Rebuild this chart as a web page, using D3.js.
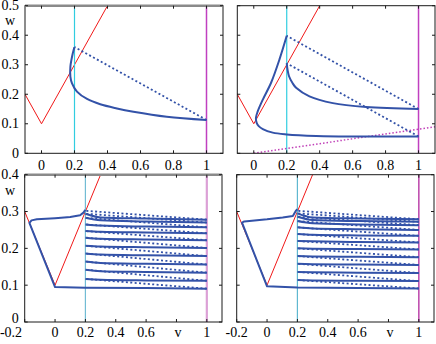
<!DOCTYPE html>
<html>
<head>
<meta charset="utf-8">
<script src="https://cdn.jsdelivr.net/npm/d3@7"></script>
<style>
body { margin: 0; background: #fff; }
svg { display: block; }
</style>
</head>
<body>
<svg width="436" height="344"></svg>
<script>
// nullcline w = 0.1 + |v| (red), shared by all panels
var redLine = [[-0.2, 0.3], [0, 0.1], [0.5, 0.6]];

// top left: single cycle
var tlCurve = [[0.199, 0.359], [0.185, 0.327], [0.175, 0.293], [0.175, 0.26], [0.185, 0.237],
    [0.215, 0.209], [0.276, 0.184], [0.356, 0.166], [0.457, 0.152], [0.557, 0.141],
    [0.759, 0.124], [1, 0.113]];
var tlJumps = [[[1, 0.113], [0.2, 0.36]]];

// top right: period-two cycle
var trCurveA = [[0.2, 0.398], [0.156, 0.318], [0.105, 0.239], [0.055, 0.182], [0.024, 0.142],
    [0.013, 0.12], [0.017, 0.104], [0.03, 0.092], [0.055, 0.082], [0.115, 0.07], [0.2, 0.064],
    [0.379, 0.059], [0.682, 0.057], [1, 0.057]];
var trCurveB = [[0.2, 0.305], [0.206, 0.28], [0.214, 0.261], [0.235, 0.238], [0.257, 0.222],
    [0.338, 0.193], [0.48, 0.17], [0.682, 0.157], [1, 0.15]];
var trJumps = [[[1, 0.057], [0.2, 0.305]], [[1, 0.15], [0.2, 0.398]]];
var trDiag = [[0, 0], [1.1, 0.09]];

// bottom panels: reset curves sampled at these v
var resetV = [0.2, 0.3, 0.6, 1.0];

var blLeft = [[0.2, 0.305], [0.187, 0.297], [0.165, 0.29], [0.1, 0.285], [0, 0.282], [-0.12, 0.279],
    [-0.155, 0.276], [-0.169, 0.269], [0, 0.095], [0.2, 0.093], [0.6, 0.092], [1, 0.0905]];
var blCurves = [
    [0.117, 0.115, 0.113, 0.112],
    [0.142, 0.138, 0.136, 0.134],
    [0.164, 0.160, 0.158, 0.156],
    [0.186, 0.183, 0.181, 0.179],
    [0.207, 0.205, 0.203, 0.201],
    [0.229, 0.226, 0.224, 0.222],
    [0.247, 0.245, 0.243, 0.241],
    [0.265, 0.262, 0.259, 0.257],
    [0.283, 0.276, 0.273, 0.270],
    [0.294, 0.284, 0.281, 0.278]
];
var blJumpFrom = [0.0905, 0.112, 0.134, 0.156, 0.179, 0.201, 0.222, 0.241, 0.257, 0.27, 0.278];
var blJumpTo = [0.117, 0.142, 0.164, 0.186, 0.207, 0.229, 0.247, 0.265, 0.283, 0.294, 0.302];

var brLeft = [[0.2, 0.306], [0.19, 0.302], [0.17, 0.288], [0.103, 0.284], [0, 0.279], [-0.116, 0.2745],
    [-0.15, 0.273], [-0.165, 0.27], [0, 0.097], [0.2, 0.094], [0.6, 0.092], [1, 0.091]];
var brCurves = [
    [0.114, 0.113, 0.112, 0.111],
    [0.136, 0.135, 0.134, 0.133],
    [0.158, 0.157, 0.156, 0.155],
    [0.179, 0.178, 0.177, 0.176],
    [0.200, 0.199, 0.198, 0.197],
    [0.220, 0.219, 0.217, 0.216],
    [0.239, 0.237, 0.235, 0.234],
    [0.257, 0.254, 0.252, 0.250],
    [0.274, 0.268, 0.265, 0.263],
    [0.286, 0.277, 0.274, 0.272],
    [0.295, 0.284, 0.281, 0.279]
];
var brJumpFrom = [0.091, 0.111, 0.133, 0.155, 0.176, 0.197, 0.216, 0.234, 0.25, 0.263, 0.272, 0.279];
var brJumpTo = [0.114, 0.136, 0.158, 0.179, 0.2, 0.22, 0.239, 0.257, 0.274, 0.286, 0.295, 0.302];

var topXTicks = [0, 0.2, 0.4, 0.6, 0.8, 1];
var topXLabels = ["0", "0.2", "0.4", "0.6", "0.8", "1"];
var topYTicks = [0, 0.1, 0.2, 0.3, 0.4, 0.5];
var topYLabels = ["0", "0.1", "0.2", "0.3", "0.4", "0.5"];
var botXTicks = [-0.2, 0, 0.2, 0.4, 0.6, 0.8, 1];
var botXLabels = ["-0.2", "0", "0.2", "0.4", "0.6", "v", "1"];
var botYTicks = [0, 0.1, 0.2, 0.3, 0.4];
var botYLabels = ["0", "0.1", "0.2", "0.3", "0.4"];

var blue = "#3352a8";
var svg = d3.select("svg");

function toPoints(ws) {
    return ws.map(function(w, i) { return [resetV[i], w]; });
}

function label(g, x, y, s, anchor) {
    return g.append("text").attr("x", x).attr("y", y)
        .attr("text-anchor", anchor)
        .style("font-family", "'Liberation Serif'").style("font-size", "14px").style("fill", "#000")
        .text(s);
}

function panel(cfg) {
    var x = d3.scaleLinear().domain(cfg.xd).range([cfg.x0, cfg.x1]);
    var y = d3.scaleLinear().domain(cfg.yd).range([cfg.y0, cfg.y1]);
    var g = svg.append("g");

    g.append("clipPath").attr("id", cfg.id)
        .append("rect")
        .attr("x", cfg.x0).attr("y", cfg.y1)
        .attr("width", cfg.x1 - cfg.x0).attr("height", cfg.y0 - cfg.y1);

    var plot = g.append("g").attr("clip-path", "url(#" + cfg.id + ")");
    var lin = d3.line().x(function(d) { return x(d[0]); }).y(function(d) { return y(d[1]); });
    var smooth = d3.line().x(function(d) { return x(d[0]); }).y(function(d) { return y(d[1]); })
        .curve(d3.curveCatmullRom.alpha(0.5));
    var mono = d3.line().x(function(d) { return x(d[0]); }).y(function(d) { return y(d[1]); })
        .curve(d3.curveMonotoneX);

    plot.append("path").attr("d", lin(redLine))
        .attr("fill", "none").attr("stroke", "#f01818").attr("stroke-width", 1);

    plot.append("line")
        .attr("x1", x(0.2)).attr("x2", x(0.2)).attr("y1", cfg.y0).attr("y2", cfg.y1)
        .attr("stroke", cfg.cyan).attr("stroke-width", 1.2);
    plot.append("line")
        .attr("x1", x(1)).attr("x2", x(1)).attr("y1", cfg.y0).attr("y2", cfg.y1)
        .attr("stroke", cfg.magenta).attr("stroke-width", cfg.magentaW);

    if (cfg.diag) {
        plot.append("path").attr("d", lin(cfg.diag))
            .attr("fill", "none").attr("stroke", "#c040b8").attr("stroke-width", 1.5)
            .attr("stroke-dasharray", "1.5,2");
    }

    (cfg.jumps || []).forEach(function(j) {
        plot.append("path").attr("d", lin(j))
            .attr("fill", "none").attr("stroke", blue).attr("stroke-width", 1.8)
            .attr("stroke-dasharray", "2,2.4");
    });

    (cfg.smoothCurves || []).forEach(function(c) {
        plot.append("path").attr("d", smooth(c))
            .attr("fill", "none").attr("stroke", blue).attr("stroke-width", 2);
    });
    (cfg.linCurves || []).forEach(function(c) {
        plot.append("path").attr("d", lin(c))
            .attr("fill", "none").attr("stroke", blue).attr("stroke-width", 2)
            .attr("stroke-linejoin", "round");
    });
    (cfg.monoCurves || []).forEach(function(c) {
        plot.append("path").attr("d", mono(c))
            .attr("fill", "none").attr("stroke", blue).attr("stroke-width", 2);
    });

    // box
    g.append("rect")
        .attr("x", cfg.x0).attr("y", cfg.y1)
        .attr("width", cfg.x1 - cfg.x0).attr("height", cfg.y0 - cfg.y1)
        .attr("fill", "none").attr("stroke", "#1a1a1a").attr("stroke-width", 1);
    if (cfg.grayTop) {
        g.append("line")
            .attr("x1", cfg.x0).attr("x2", cfg.x1).attr("y1", cfg.y1).attr("y2", cfg.y1)
            .attr("stroke", "#8a8a8a").attr("stroke-width", 2.5);
    }

    // inward ticks on all sides
    cfg.xt.forEach(function(t) {
        g.append("line").attr("x1", x(t)).attr("x2", x(t)).attr("y1", cfg.y0).attr("y2", cfg.y0 - 3)
            .attr("stroke", "#1a1a1a");
        g.append("line").attr("x1", x(t)).attr("x2", x(t)).attr("y1", cfg.y1).attr("y2", cfg.y1 + 3)
            .attr("stroke", "#1a1a1a");
    });
    cfg.yt.forEach(function(t) {
        g.append("line").attr("x1", cfg.x0).attr("x2", cfg.x0 + 3).attr("y1", y(t)).attr("y2", y(t))
            .attr("stroke", "#1a1a1a");
        g.append("line").attr("x1", cfg.x1).attr("x2", cfg.x1 - 3).attr("y1", y(t)).attr("y2", y(t))
            .attr("stroke", "#1a1a1a");
    });

    cfg.xt.forEach(function(t, i) {
        var px = x(t);
        if (cfg.xLabels[i] === "v") px = x(0.81);
        if (cfg.shiftFirst && i === 0) px = 11;
        label(g, px, cfg.labelY, cfg.xLabels[i], "middle");
    });
    if (cfg.yLabels) {
        cfg.yt.forEach(function(t, i) {
            var lbl = label(g, cfg.x0 - 6, y(t), cfg.yLabels[i], "end").attr("dy", "0.32em");
            if (cfg.shiftFirst && i === 0) lbl.attr("dy", "0.1em");
        });
        label(g, 5, cfg.wY, "w", "start");
    }
}

panel({
    id: "c1", xd: [-0.1, 1.1], yd: [0, 0.5], x0: 25, x1: 223, y0: 153.3, y1: 5.7,
    cyan: "#30cde0", magenta: "#c040c0", magentaW: 1.5, grayTop: true,
    smoothCurves: [tlCurve], jumps: tlJumps,
    xt: topXTicks, xLabels: topXLabels, yt: topYTicks, yLabels: topYLabels,
    labelY: 170, wY: 25
});

panel({
    id: "c2", xd: [-0.1, 1.1], yd: [0, 0.5], x0: 237.3, x1: 435, y0: 153.3, y1: 5.7,
    cyan: "#30cde0", magenta: "#c040c0", magentaW: 1.5,
    smoothCurves: [trCurveA, trCurveB], jumps: trJumps, diag: trDiag,
    xt: topXTicks, xLabels: topXLabels, yt: topYTicks,
    labelY: 170
});

panel({
    id: "c3", xd: [-0.2, 1.1], yd: [0, 0.4], x0: 24.7, x1: 222, y0: 322, y1: 174.7,
    cyan: "#72bcd4", magenta: "#dca0d6", magentaW: 2.2, grayTop: true,
    linCurves: [blLeft], monoCurves: blCurves.map(toPoints),
    jumps: blJumpFrom.map(function(w, i) { return [[1, w], [0.2, blJumpTo[i]]]; }),
    xt: botXTicks, xLabels: botXLabels, yt: botYTicks, yLabels: botYLabels,
    labelY: 337, wY: 195, shiftFirst: true
});

panel({
    id: "c4", xd: [-0.2, 1.1], yd: [0, 0.4], x0: 236.7, x1: 434, y0: 322, y1: 174.7,
    cyan: "#5fb8d0", magenta: "#c050b0", magentaW: 1.6,
    linCurves: [brLeft], monoCurves: brCurves.map(toPoints),
    jumps: brJumpFrom.map(function(w, i) { return [[1, w], [0.2, brJumpTo[i]]]; }),
    xt: botXTicks, xLabels: botXLabels, yt: botYTicks,
    labelY: 337
});
</script>
</body>
</html>
